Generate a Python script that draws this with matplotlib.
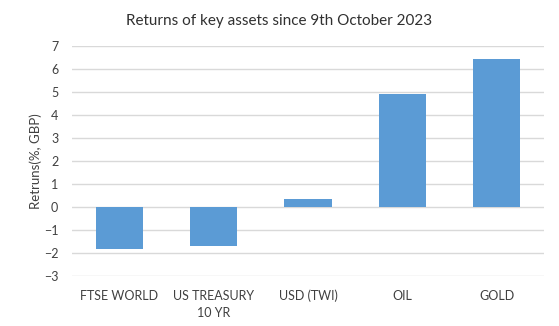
import matplotlib
matplotlib.use("Agg")
import matplotlib.pyplot as plt

categories = ["FTSE WORLD", "US TREASURY\n10 YR", "USD (TWI)", "OIL", "GOLD"]
returns = [-1.84, -1.71, 0.34, 4.91, 6.43]
y_ticks = [-3, -2, -1, 0, 1, 2, 3, 4, 5, 6, 7]

plt.rcParams["font.family"] = ["Lato", "DejaVu Sans"]

fig = plt.figure(figsize=(5.59, 3.26), dpi=100)
ax = fig.add_axes([0.129, 0.154, 0.844, 0.705])

x = range(len(categories))
ax.bar(x, returns, width=0.5, color="#5b9bd5", zorder=3)

ax.set_ylim(-3, 7)
ax.set_xlim(-0.5, len(categories) - 0.5)
ax.set_yticks(y_ticks)
ax.set_xticks(list(x))
ax.set_xticklabels(categories, fontsize=9, color="#404040", linespacing=1.5)
ax.tick_params(axis="y", labelsize=9, labelcolor="#404040", length=0, pad=10)
ax.tick_params(axis="x", length=0, pad=10)

ax.grid(axis="y", color="#d9d9d9", linewidth=1, zorder=0)
for s in ax.spines.values():
    s.set_visible(False)

ax.set_ylabel("Retruns(%, GBP)", fontsize=9.5, color="#404040", labelpad=1)
fig.text(0.5, 0.935, "Returns of key assets since 9th October 2023",
         ha="center", va="center", fontsize=11, color="#303030")

fig.savefig("out.png", dpi=100)
